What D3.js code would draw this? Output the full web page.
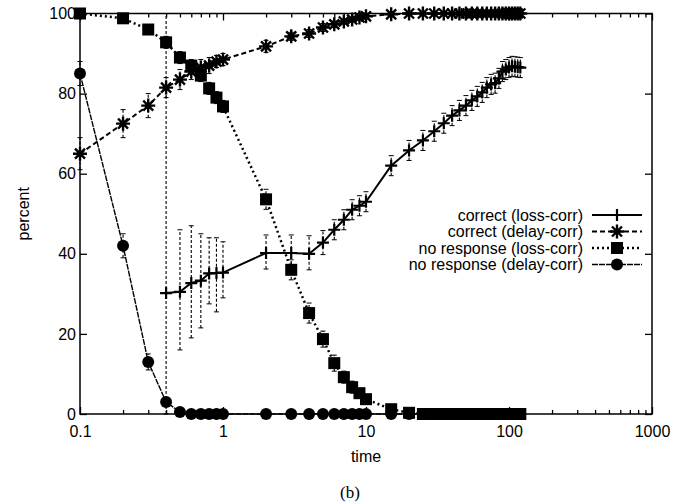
<!DOCTYPE html>
<html>
<head>
<meta charset="utf-8">
<script src="https://cdn.jsdelivr.net/npm/d3@7"></script>
<style>
  body { margin: 0; background: #fff; }
  text { font-family: "Liberation Sans", Arial, sans-serif; font-size: 16px; fill: #000; }
</style>
</head>
<body>
<div id="chart"></div>
<script>
// sample times (log axis)
var times = [0.1,0.2,0.3,0.4,0.5,0.6,0.7,0.8,0.9,1,
             2,3,4,5,6,7,8,9,10,
             15,20,25,30,35,40,45,50,55,60,65,70,75,80,85,90,95,100,105,110,115,120];

var correctLoss = [null,null,null,30.2,30.5,32.7,33.3,35.1,35.2,35.3,
                   40.2,40.2,40,42.8,46,48.5,51,52,53,
                   62,65.8,68.3,70.6,72.6,74.5,75.8,77,78.3,79.3,80.3,81.5,82.3,82.6,83.8,85.5,86,86.5,86.8,86.7,86.6,86.5];
var correctLossErrLo = [null,null,null,30.2,14.5,13.7,11.8,7.6,9.7,6.3,
                        4,4,4,3,2.5,2.5,2.5,2.5,2.5,
                        2.5,2.5,2.5,2.5,2.5,2.5,2.5,2.5,2.5,2.5,2.5,2.5,2.5,2.5,2.5,2.5,2.5,2.5,2.5,2.5,2.5,2.5];
var correctLossErrHi = [null,null,null,69.8,15.5,14.3,11.7,8.9,8.8,7.7,
                        4.5,4.5,4.5,3,2.5,2.5,2.5,2.5,2.5,
                        2.5,2.5,2.5,2.5,2.5,2.5,2.5,2.5,2.5,2.5,2.5,2.5,2.5,2.5,2.5,2.5,2.5,2.5,2.5,2.5,2.5,2.5];

var correctDelay = [65,72.5,77,81.5,83.5,85.5,86.5,87,88,88.5,
                    91.8,94.3,95,96.5,97.3,98,98.5,99,99.3,
                    99.8,100,100,100,100,100,100,100,100,100,100,100,100,100,100,100,100,100,100,100,100,100];
var correctDelayErr = [4,3.5,3,2.5,2.5,2,2,2,1.5,1.5,
                       1.5,1,1,1,0.8,0.6,0.5,0.4,0.3,
                       0.2,0,0,0,0,0,0,0,0,0,0,0,0,0,0,0,0,0,0,0,0,0];

var noRespLoss = [100,98.8,96,92.8,89,87,84.5,81.3,79,76.8,
                  53.6,36,25.2,18.7,12.7,9.2,6.7,5.2,3.7,
                  1.2,0.3,0,0,0,0,0,0,0,0,0,0,0,0,0,0,0,0,0,0,0,0];
var noRespLossErr = [0,0.8,1,1.5,1.5,1.5,1.5,1.5,1.5,1.5,
                     2.5,2.5,2.5,2,2,1.5,1.5,1,1,
                     0.5,0.3,0,0,0,0,0,0,0,0,0,0,0,0,0,0,0,0,0,0,0,0];

var noRespDelay = [85,42,13,3,0.5,0,0,0,0,0,
                   0,0,0,0,0,0,0,0,0,
                   0,0,0,0,0,0,0,0,0,0,0,0,0,0,0,0,0,0,0,0,0,0];
var noRespDelayErr = [3,3,2,1,0,0,0,0,0,0,
                      0,0,0,0,0,0,0,0,0,
                      0,0,0,0,0,0,0,0,0,0,0,0,0,0,0,0,0,0,0,0,0,0];

var xMajor = [0.1, 1, 10, 100, 1000];
var xMinor = [0.2,0.3,0.4,0.5,0.6,0.7,0.8,0.9,2,3,4,5,6,7,8,9,20,30,40,50,60,70,80,90,200,300,400,500,600,700,800,900];
var yTicks = [0, 20, 40, 60, 80, 100];

var seriesNames = ["correct (loss-corr)", "correct (delay-corr)", "no response (loss-corr)", "no response (delay-corr)"];

var W = 678, H = 502;
var plotL = 80, plotR = 652, plotT = 13.5, plotB = 414;

var svg = d3.select("#chart").append("svg")
  .attr("width", W).attr("height", H);

var x = d3.scaleLog().domain([0.1, 1000]).range([plotL, plotR]);
var y = d3.scaleLinear().domain([0, 100]).range([plotB, plotT]);

// axes, ticks pointing inward like gnuplot
function clean(g) { g.select(".domain").remove(); g.selectAll("line").attr("stroke", "#000").attr("stroke-width", 1.3); }

svg.append("g").attr("transform", "translate(0," + plotB + ")")
  .call(d3.axisBottom(x).tickValues(xMajor).tickSize(-7).tickSizeOuter(0).tickPadding(12)
    .tickFormat(function(d){ return String(d); }))
  .call(clean)
  .selectAll("text").style("font-size", "16px").attr("font-family", null);
svg.append("g").attr("transform", "translate(0," + plotB + ")")
  .call(d3.axisBottom(x).tickValues(xMinor).tickSize(-4).tickSizeOuter(0).tickFormat(""))
  .call(clean);
svg.append("g").attr("transform", "translate(0," + plotT + ")")
  .call(d3.axisTop(x).tickValues(xMajor).tickSize(-7).tickSizeOuter(0).tickFormat(""))
  .call(clean);
svg.append("g").attr("transform", "translate(0," + plotT + ")")
  .call(d3.axisTop(x).tickValues(xMinor).tickSize(-4).tickSizeOuter(0).tickFormat(""))
  .call(clean);
svg.append("g").attr("transform", "translate(" + plotL + ",0)")
  .call(d3.axisLeft(y).tickValues(yTicks).tickSize(-7).tickSizeOuter(0).tickPadding(4))
  .call(clean)
  .selectAll("text").style("font-size", "16px").attr("font-family", null);
svg.append("g").attr("transform", "translate(" + plotR + ",0)")
  .call(d3.axisRight(y).tickValues(yTicks).tickSize(-7).tickSizeOuter(0).tickFormat(""))
  .call(clean);

svg.append("rect")
  .attr("x", plotL).attr("y", plotT)
  .attr("width", plotR - plotL).attr("height", plotB - plotT)
  .attr("fill", "none").attr("stroke", "#000").attr("stroke-width", 1.5);

svg.append("text").attr("x", (plotL + plotR) / 2).attr("y", 462)
  .attr("text-anchor", "middle").text("time");
svg.append("text")
  .attr("transform", "translate(23," + ((plotT + plotB) / 2) + ") rotate(-90)")
  .attr("text-anchor", "middle").attr("dy", "0.35em").text("percent");
svg.append("text").attr("x", 350).attr("y", 498)
  .attr("text-anchor", "middle")
  .style("font-family", "'Liberation Serif', 'DejaVu Serif', serif")
  .style("font-size", "17px").text("(b)");

// marker shapes
var plusPath = "M-6,0H6M0,-6V6";
var starPath = "M-7,0H7M0,-7V7M-5,-5L5,5M-5,5L5,-5";

var styles = [
  { dash: null,      width: 2,   marker: "plus"   },
  { dash: "5,3",     width: 2,   marker: "star"   },
  { dash: "2,3",     width: 2.5, marker: "square" },
  { dash: "6,1",     width: 1.4, marker: "circle" }
];

function drawMarker(g, type) {
  if (type === "plus") {
    g.append("path").attr("d", plusPath).attr("stroke", "#000").attr("stroke-width", 2.2).attr("fill", "none");
  } else if (type === "star") {
    g.append("path").attr("d", starPath).attr("stroke", "#000").attr("stroke-width", 2.4).attr("fill", "none");
  } else if (type === "square") {
    g.append("rect").attr("x", -6).attr("y", -6).attr("width", 12).attr("height", 12).attr("fill", "#000");
  } else {
    g.append("circle").attr("r", 6).attr("fill", "#000");
  }
}

function series(vals, errLo, errHi) {
  return times.map(function(t, i) {
    return { t: t, v: vals[i], lo: errLo[i], hi: errHi[i] };
  }).filter(function(d){ return d.v != null; });
}

var allSeries = [
  series(correctLoss, correctLossErrLo, correctLossErrHi),
  series(correctDelay, correctDelayErr, correctDelayErr),
  series(noRespLoss, noRespLossErr, noRespLossErr),
  series(noRespDelay, noRespDelayErr, noRespDelayErr)
];

var line = d3.line()
  .x(function(d){ return x(d.t); })
  .y(function(d){ return y(d.v); });

allSeries.forEach(function(data, k) {
  var st = styles[k];
  var g = svg.append("g");

  // error bars (dashed, with small crossbars)
  var eb = g.selectAll(".eb").data(data.filter(function(d){ return d.lo > 0 || d.hi > 0; }))
    .enter().append("g").attr("class", "eb");
  eb.append("line")
    .attr("x1", function(d){ return x(d.t); }).attr("x2", function(d){ return x(d.t); })
    .attr("y1", function(d){ return y(d.v - d.lo); }).attr("y2", function(d){ return y(d.v + d.hi); })
    .attr("stroke", "#000").attr("stroke-width", 1.1).attr("stroke-dasharray", "3,2");
  [function(d){ return d.v - d.lo; }, function(d){ return d.v + d.hi; }].forEach(function(f) {
    eb.append("line")
      .attr("x1", function(d){ return x(d.t) - 2.5; }).attr("x2", function(d){ return x(d.t) + 2.5; })
      .attr("y1", function(d){ return y(f(d)); }).attr("y2", function(d){ return y(f(d)); })
      .attr("stroke", "#000").attr("stroke-width", 1);
  });

  g.append("path").datum(data)
    .attr("d", line)
    .attr("fill", "none").attr("stroke", "#000")
    .attr("stroke-width", st.width)
    .attr("stroke-dasharray", st.dash);

  g.selectAll(".pt").data(data).enter().append("g")
    .attr("class", "pt")
    .attr("transform", function(d){ return "translate(" + x(d.t) + "," + y(d.v) + ")"; })
    .each(function(){ drawMarker(d3.select(this), st.marker); });
});

// legend
var legend = svg.append("g");
seriesNames.forEach(function(name, i) {
  var ly = 215 + i * 16.5;
  var st = styles[i];
  legend.append("text").attr("x", 583).attr("y", ly).attr("dy", "0.35em")
    .attr("text-anchor", "end").text(name);
  legend.append("line").attr("x1", 592).attr("x2", 642).attr("y1", ly).attr("y2", ly)
    .attr("stroke", "#000").attr("stroke-width", st.width).attr("stroke-dasharray", st.dash);
  var mg = legend.append("g").attr("transform", "translate(617," + ly + ")");
  drawMarker(mg, st.marker);
});
</script>
</body>
</html>
